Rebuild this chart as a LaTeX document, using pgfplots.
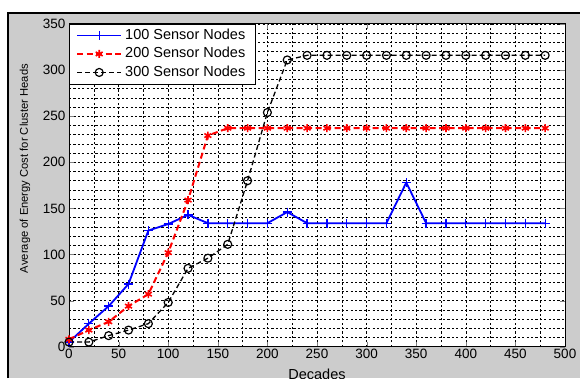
\documentclass[border=0pt]{standalone}
\usepackage{fontspec}
\setmainfont{Liberation Sans}
\usepackage{pgfplots}
\pgfplotsset{compat=1.18}
\begin{document}
\begin{tikzpicture}[x=1pt,y=1pt]
\clip (0,0) rectangle (580,378);
\fill[white] (0,0) rectangle (580,378);
\fill[black!20] (8,0) rectangle (580,365);
\draw[black, line width=1.5pt] (8,0) -- (8,365) -- (580,365);
\begin{axis}[
 at={(69pt,31.3pt)}, anchor=south west, scale only axis,
 width=496pt, height=322.7pt,
 xmin=0, xmax=500, ymin=0, ymax=350,
 xtick={0,50,...,500}, ytick={0,50,...,350},
 minor x tick num=1, minor y tick num=4,
 grid=both,
 major grid style={black, dash pattern=on 2.2pt off 2.2pt, line width=0.5pt},
 minor grid style={black, dash pattern=on 2.2pt off 2.2pt, line width=0.5pt},
 tick align=inside, tick pos=both,
 major tick length=5pt, minor tick length=0pt,
 axis line style={line width=1pt},
 axis background/.style={fill=white},
 /pgf/number format/assume math mode=true,
 tick label style={font=\fontsize{13.5}{15}\selectfont},
 xticklabel style={yshift=1pt},
 xlabel={Decades},
 ylabel={Average of Energy Cost for Cluster Heads},
 xlabel style={font=\fontsize{14.5}{16}\selectfont, at={(axis description cs:0.5,-0.068)}, anchor=north, inner sep=0pt},
 ylabel style={font=\fontsize{11.2}{13}\selectfont, at={(axis description cs:-0.0887,0.552)}, anchor=center, inner sep=0pt},
 legend style={at={(0,1)}, anchor=north west, draw=black,
   font=\fontsize{14.5}{16}\selectfont, fill=white, inner xsep=7pt, inner ysep=2pt, row sep=0pt,
   nodes={text height=11pt, text depth=3.5pt, inner xsep=3pt}},
 legend cell align=left,
 legend image code/.code={\draw[mark repeat=2, mark phase=2, #1] plot coordinates {(0pt,0pt) (22pt,0pt) (44pt,0pt)};},
 every axis plot/.append style={line join=round},
]
\addplot[color=blue, line width=1.8pt, mark=+, mark size=4.5pt, mark options={solid, line width=1.3pt, draw=blue},
  legend image post style={draw=blue, line width=1.8pt}]
 coordinates {(0,5) (20,25) (40,44) (60,68) (80,126) (100,133) (120,143) (140,134) (160,134) (180,134) (200,134) (220,146) (240,134) (260,134) (280,134) (300,134) (320,134) (340,178) (360,134) (380,134) (400,134) (420,134) (440,134) (460,134) (480,134)};
\addlegendentry{100 Sensor Nodes}
\addplot[color=red, line width=2pt, dash pattern=on 6pt off 3.5pt, mark=asterisk, mark size=4pt, mark options={solid, line width=1.6pt}]
 coordinates {(0,8) (20,18) (40,27) (60,44) (80,57) (100,102) (120,159) (140,229) (160,237) (180,237) (200,237) (220,237) (240,237) (260,237) (280,237) (300,237) (320,237) (340,237) (360,237) (380,237) (400,237) (420,237) (440,237) (460,237) (480,237)};
\addlegendentry{200 Sensor Nodes}
\addplot[color=black, line width=1.3pt, dash pattern=on 5pt off 3pt, mark=o, mark size=4pt, mark options={solid, line width=1.2pt}]
 coordinates {(0,5) (20,5) (40,12) (60,18) (80,25) (100,48) (120,85) (140,96) (160,111) (180,180) (200,254) (220,311) (240,316) (260,316) (280,316) (300,316) (320,316) (340,316) (360,316) (380,316) (400,316) (420,316) (440,316) (460,316) (480,316)};
\addlegendentry{300 Sensor Nodes}
\end{axis}
\end{tikzpicture}
\end{document}
